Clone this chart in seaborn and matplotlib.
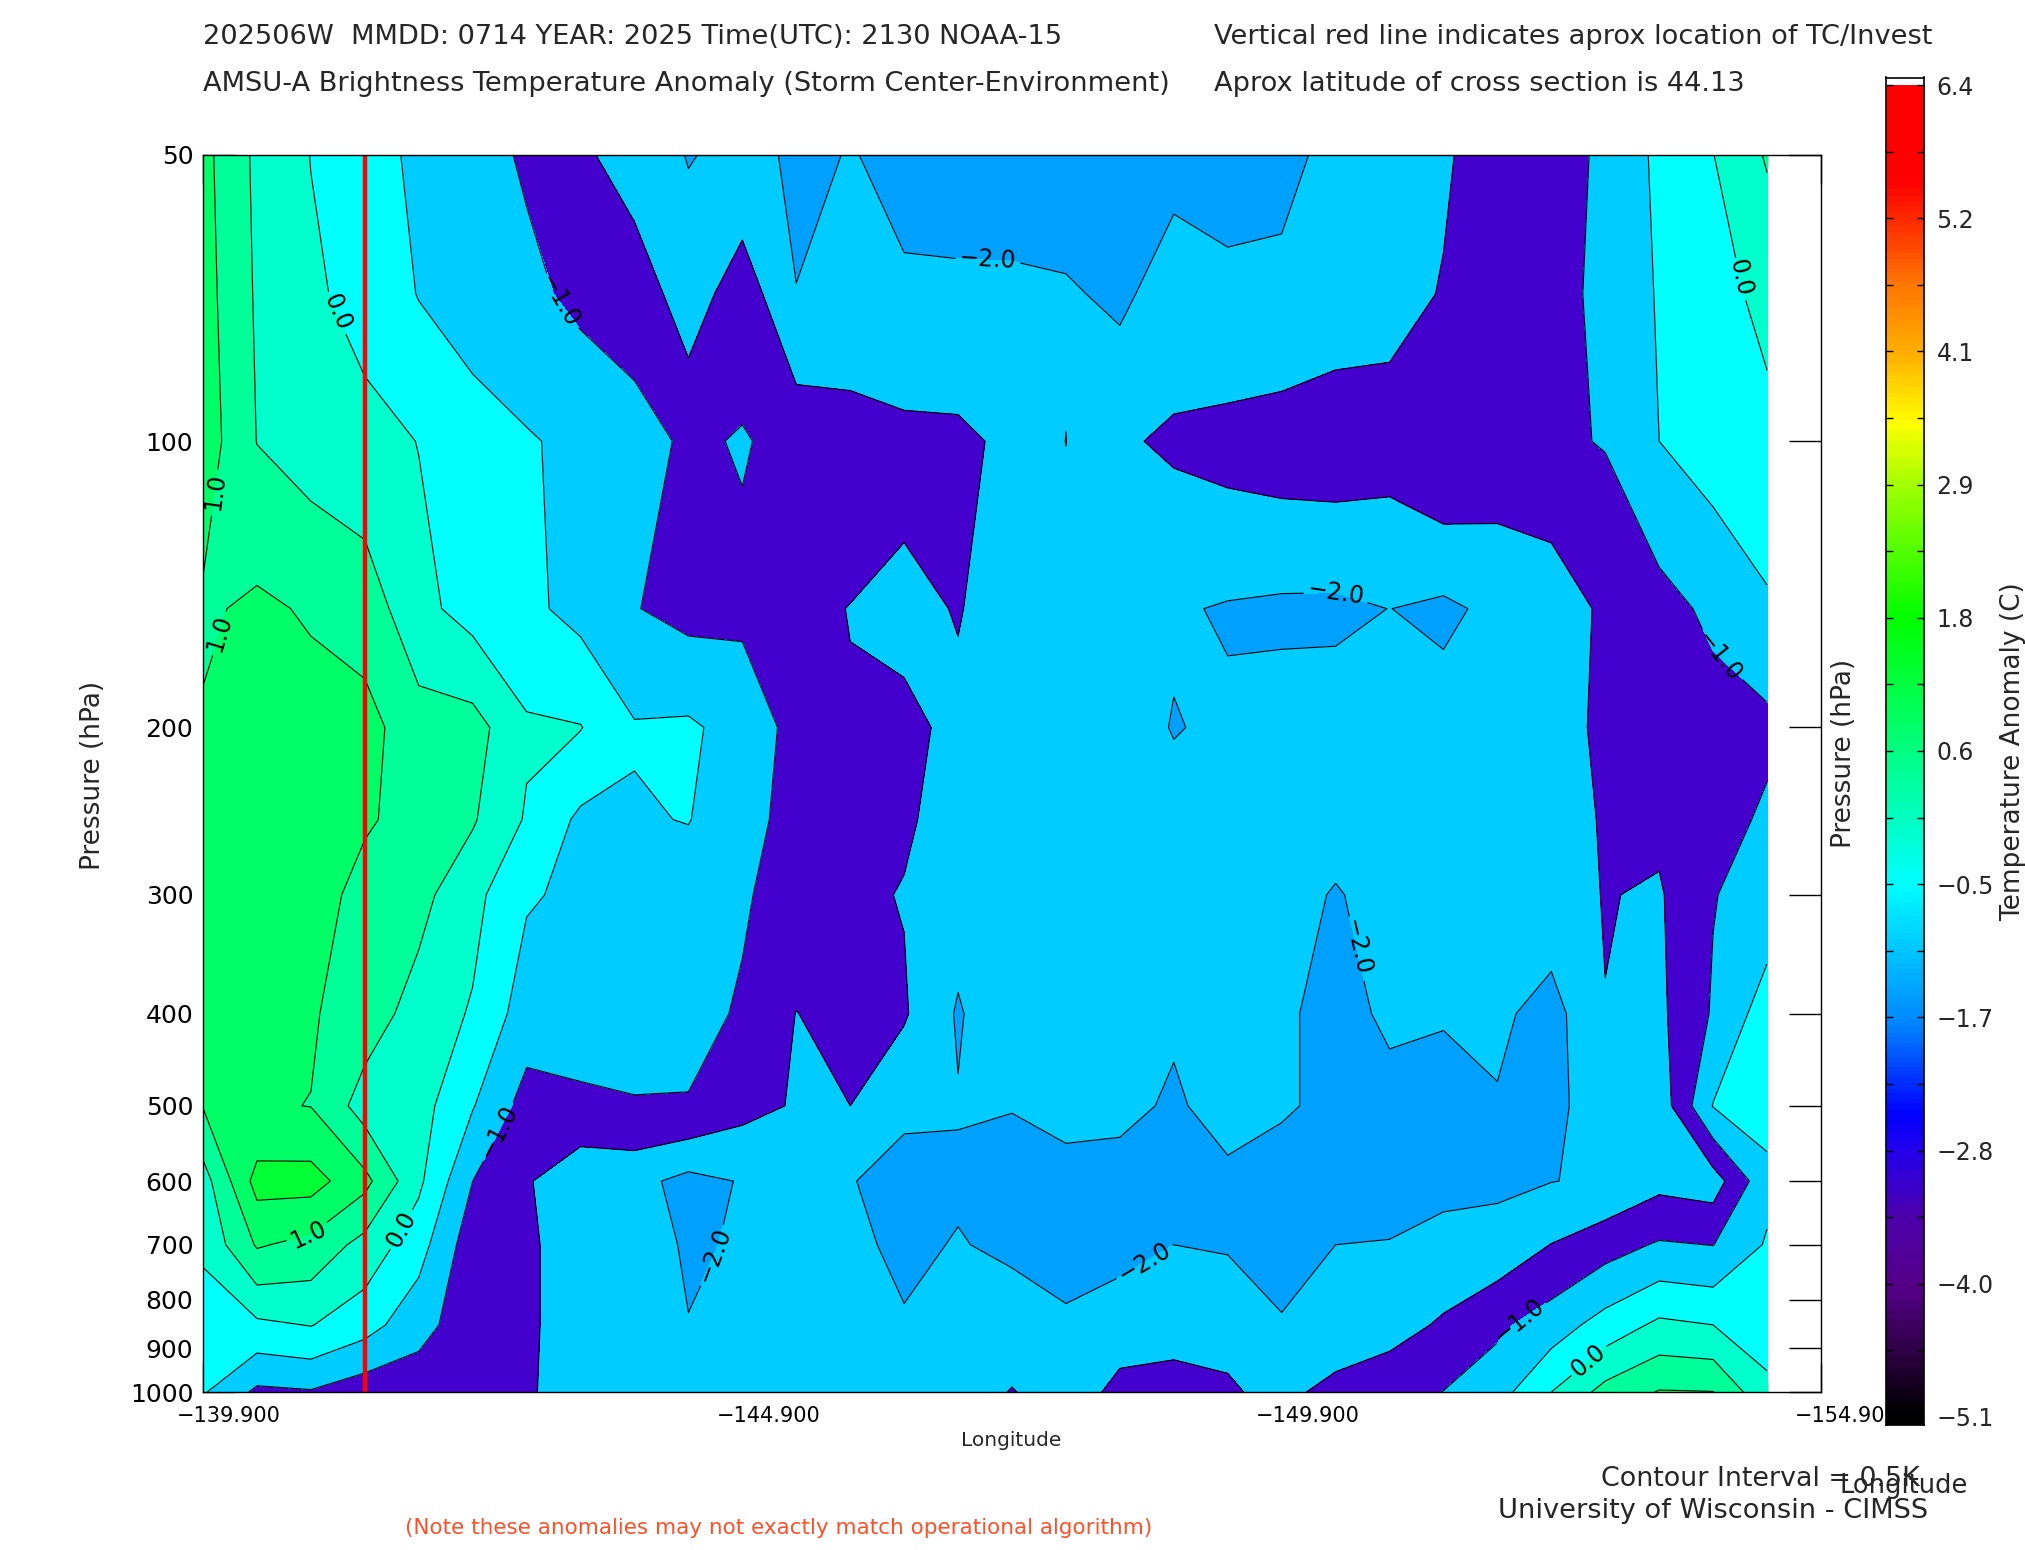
import numpy as np
import matplotlib
matplotlib.use("Agg")
import matplotlib.pyplot as plt
from matplotlib.colors import LinearSegmentedColormap
from matplotlib.ticker import NullLocator, FixedLocator
from matplotlib.transforms import ScaledTranslation
import seaborn as sns

# ---------------- data ----------------
longitudes = [-139.9, -140.4, -140.9, -141.4, -141.9, -142.4, -142.9, -143.4, -143.9, -144.4,
              -144.9, -145.4, -145.9, -146.4, -146.9, -147.4, -147.9, -148.4, -148.9, -149.4,
              -149.9, -150.4, -150.9, -151.4, -151.9, -152.4, -152.9, -153.4, -153.9, -154.4]
pressures = [50, 70, 100, 150, 200, 250, 300, 400, 500, 600, 700, 850, 1000]

anom_p50 = [1.15, 0.40, -0.01, -0.30, -0.60, -0.85, -1.05, -1.40, -1.75, -2.02, -1.90, -2.05, -1.99, -2.05, -2.30,
            -2.30, -2.30, -2.35, -2.15, -2.15, -2.10, -1.90, -1.70, -1.55, -1.30, -1.07, -0.97, -0.38, -0.01, 0.55]
anom_p70 = [1.20, 0.44, 0.08, -0.16, -0.52, -0.70, -0.90, -1.10, -1.18, -1.78, -1.20, -1.995, -1.90, -1.975, -1.88,
            -1.89, -1.94, -2.10, -1.76, -1.91, -1.91, -1.75, -1.645, -1.475, -1.25, -1.07, -0.95, -0.45, -0.12, 0.09]
anom_p100 = [1.27, 0.49, 0.30, 0.15, -0.01, -0.30, -0.45, -0.63, -0.85, -1.064, -0.97, -1.13, -1.25, -1.35, -1.40,
             -1.60, -2.005, -1.557, -1.43, -1.33, -1.25, -1.22, -1.30, -1.02, -1.20, -1.07, -0.977, -0.50, -0.30, -0.10]
anom_p150 = [0.92, 1.10, 0.94, 0.80, 0.133, -0.18, -0.40, -0.64, -0.98, -1.15, -1.10, -1.40, -1.51, -1.62, -1.474,
             -1.73, -1.80, -1.90, -1.95, -2.04, -2.09, -2.10, -1.995, -2.10, -1.88, -1.84, -1.39, -1.20, -0.88, -0.58]
anom_p200 = [1.05, 1.30, 1.23, 1.16, 0.73, 0.70, 0.07, 0.02, -0.46, -0.42, -0.70, -1.16, -1.47, -1.40, -1.60,
             -1.70, -1.80, -1.82, -2.02, -1.93, -1.80, -1.75, -1.75, -1.78, -1.75, -1.60, -1.45, -1.35, -1.25, -1.13]
anom_p250 = [1.15, 1.30, 1.25, 1.05, 0.85, 0.55, -0.05, -0.60, -0.55, -0.48, -0.85, -1.15, -1.35, -1.45, -1.65,
             -1.75, -1.80, -1.85, -1.85, -1.85, -1.85, -1.90, -1.85, -1.82, -1.80, -1.75, -1.45, -1.40, -1.25, -0.90]
anom_p300 = [1.20, 1.30, 1.20, 0.85, 0.65, 0.15, -0.45, -0.60, -0.70, -0.80, -0.95, -1.20, -1.42, -1.52, -1.80,
             -1.85, -1.80, -1.85, -1.85, -1.85, -1.90, -2.02, -1.90, -1.85, -1.80, -1.70, -1.48, -1.55, -1.02, -0.80]
anom_p400 = [1.30, 1.25, 1.05, 0.75, 0.30, -0.05, -0.75, -0.75, -0.80, -0.85, -1.05, -1.51, -1.30, -1.45, -2.05,
             -1.60, -1.85, -1.90, -1.90, -1.90, -1.95, -2.10, -1.95, -1.97, -1.90, -2.19, -1.51, -1.60, -0.95, -0.25]
anom_p500 = [1.02, 1.05, 0.99, 0.28, 0.20, -0.47, -1.20, -1.10, -1.03, -1.03, -1.35, -1.54, -1.50, -1.88, -1.97,
             -1.98, -1.90, -1.81, -2.10, -1.72, -1.95, -2.10, -2.09, -2.15, -2.04, -2.05, -1.90, -1.80, -0.48, -0.30]
anom_p600 = [0.28, 1.68, 1.70, 1.146, 0.10, -1.00, -1.45, -1.87, -1.85, -2.15, -1.97, -1.90, -1.97, -2.22, -2.07,
             -2.20, -2.11, -2.29, -2.20, -2.16, -2.19, -2.20, -2.20, -2.20, -2.10, -2.01, -1.94, -1.64, -1.74, -0.64]
anom_p700 = [0.10, 1.05, 0.85, 0.33, -0.30, -1.30, -1.45, -1.65, -1.80, -2.05, -1.96, -1.85, -1.90, -2.10, -1.97,
             -2.10, -2.10, -2.20, -2.00, -2.05, -2.10, -2.00, -1.98, -1.77, -1.80, -1.49, -1.20, -0.95, -1.01, -0.45]
anom_p850 = [-0.28, -0.10, 0.02, -0.30, -0.82, -1.30, -1.45, -1.65, -1.65, -1.99, -1.70, -1.70, -1.75, -1.96, -1.80,
             -1.73, -1.96, -1.67, -1.70, -1.62, -1.98, -1.80, -1.65, -1.45, -1.10, -0.75, -0.30, 0.10, 0.00, -0.20]
anom_p1000 = [-0.45, -1.10, -1.04, -1.30, -1.30, -1.40, -1.45, -1.70, -1.70, -1.70, -1.70, -1.70, -1.70, -1.70, -1.70,
              -1.48, -1.70, -1.40, -1.30, -1.45, -1.62, -1.36, -1.25, -0.99, -0.70, 0.00, 0.67, 1.03, 1.01, 0.10]

storm_longitude = -141.4

fill_levels = [-5.0, -2.0, -1.5, -1.0, -0.5, 0.0, 0.5, 1.0, 1.5, 2.0, 3.0]
fill_colors = ['#00A0FF', '#00CCFF', '#4400CC', '#00CCFF', '#00FFFF', '#00FFCC',
               '#00FF99', '#00FF66', '#00FF33', '#00FF00']
plain_line_levels = [-1.5, -0.5, 0.5, 1.5]
label_levels = [-2.0, -1.0, 0.0, 1.0]
label_spots_lon = [-141.19, -143.17, -147.18, -139.97, -140.03, -150.41, -154.06, -154.12,
                   -150.59, -142.61, -141.71, -140.89, -144.57, -148.56, -152.12, -152.72]
label_spots_p = [72.8, 71.7, 62.8, 112.7, 158.8, 143.9, 163.6, 67.4,
                 341, 530, 671, 692, 712, 708, 847, 919]

x_tick_values = [-139.9, -144.9, -149.9, -154.9]
x_tick_labels = ['\u2212139.900', '\u2212144.900', '\u2212149.900', '\u2212154.900']
y_tick_values = [50, 100, 200, 300, 400, 500, 600, 700, 800, 900, 1000]
y_tick_labels = ['50', '100', '200', '300', '400', '500', '600', '700', '800', '900', '1000']

cbar_min, cbar_max = -5.1, 6.4
cbar_tick_values = [-5.1, -3.95, -2.8, -1.65, -0.5, 0.65, 1.8, 2.95, 4.1, 5.25, 6.4]
cbar_tick_labels = ['\u22125.1', '\u22124.0', '\u22122.8', '\u22121.7', '\u22120.5', '0.6', '1.8', '2.9', '4.1', '5.2', '6.4']
cbar_anchor_values = [-5.1, -4.5, -4.0, -3.4, -2.8, -2.5, -1.7, -0.5, 0.6, 1.8, 2.9, 3.5, 4.1, 4.7, 5.2, 5.6, 6.4]
cbar_anchor_colors = ['#000000', '#33004D', '#550088', '#4D00AA', '#2200EE', '#0000FF', '#0088FF', '#00FFFF',
                      '#00FF88', '#00FF00', '#99FF00', '#FFFF00', '#FFB000', '#FF7700', '#FF3300', '#FF0000', '#FF0000']

# ---------------- figure ----------------
sns.set_theme(style="white")
plt.rcParams['font.family'] = ['DejaVu Sans']
plt.rcParams['axes.edgecolor'] = 'black'
plt.rcParams['axes.linewidth'] = 1.0
plt.rcParams['contour.negative_linestyle'] = 'solid'

W, H = 2025, 1550
fig = plt.figure(figsize=(W / 100, H / 100), dpi=100)
fig.patch.set_facecolor('white')

ax = fig.add_axes([203 / W, 1 - 1392 / H, 1618 / W, (1392 - 155) / H])
ax.set_facecolor('white')
ax.set_yscale('log')

Z = np.array([anom_p50, anom_p70, anom_p100, anom_p150, anom_p200, anom_p250, anom_p300,
              anom_p400, anom_p500, anom_p600, anom_p700, anom_p850, anom_p1000])

ax.contourf(longitudes, pressures, Z, levels=fill_levels, colors=fill_colors, antialiased=False)
ax.contour(longitudes, pressures, Z, levels=plain_line_levels, colors='black', linewidths=0.8,
           linestyles='solid')
cs_lab = ax.contour(longitudes, pressures, Z, levels=label_levels, colors='black', linewidths=0.8,
                    linestyles='solid')
ax.set_xlim(-139.9, -154.9)
ax.set_ylim(1000, 50)


def fmt_label(v):
    s = f'{v:.1f}'
    if s == '-0.0':
        s = '0.0'
    return s.replace('-', '\u2212')


ax.clabel(cs_lab, fmt=fmt_label, fontsize=17, inline=True, inline_spacing=4,
          manual=list(zip(label_spots_lon, label_spots_p)))

sns.lineplot(x=[storm_longitude, storm_longitude], y=[50, 1000], estimator=None, sort=False,
             color='red', linewidth=3.2, ax=ax, legend=False)

ax.set_xlim(-139.9, -154.9)
ax.set_ylim(1000, 50)
ax.set_xlabel('')
ax.set_ylabel('')

ax.yaxis.set_major_locator(FixedLocator(y_tick_values))
ax.set_yticklabels(y_tick_labels)
ax.yaxis.set_minor_locator(NullLocator())
ax.tick_params(axis='y', which='major', direction='in', length=23, width=1.0, color='black',
               left=True, right=True, labelsize=18, pad=7, labelcolor='black')

ax.xaxis.set_major_locator(FixedLocator(x_tick_values))
ax.set_xticklabels(x_tick_labels)
ax.xaxis.set_minor_locator(FixedLocator(longitudes))
ax.tick_params(axis='x', which='major', direction='in', length=21, width=1.0, color='black',
               top=True, bottom=True, labelsize=15, pad=10, labelcolor='black')
ax.tick_params(axis='x', which='minor', direction='in', length=8, width=1.0, color='black',
               top=True, bottom=True)
for lab in ax.get_xticklabels():
    lab.set_transform(lab.get_transform() + ScaledTranslation(0.26, 0, fig.dpi_scale_trans))
for sp in ax.spines.values():
    sp.set_visible(True)
    sp.set_color('black')
    sp.set_linewidth(1.0)

# ---------------- color bar ----------------
cax = fig.add_axes([1886 / W, 1 - 1424.6 / H, 38 / W, (1424.6 - 77.5) / H])
positions = [(v - cbar_min) / (cbar_max - cbar_min) for v in cbar_anchor_values]
cmap = LinearSegmentedColormap.from_list('amsu', list(zip(positions, cbar_anchor_colors)), N=256)
grad = np.linspace(-5.167, cbar_max, 400).reshape(-1, 1)
cax.imshow(grad, extent=[0, 1, -5.167, cbar_max], origin='lower', aspect='auto', cmap=cmap,
           vmin=cbar_min, vmax=cbar_max, interpolation='nearest')
cax.set_xlim(0, 1)
cax.set_ylim(-5.167, 6.466)
cax.set_facecolor('white')
cax.set_xticks([])
cax.yaxis.set_major_locator(FixedLocator(cbar_tick_values))
cax.set_yticklabels(cbar_tick_labels)
cax.yaxis.set_minor_locator(FixedLocator([v + 0.575 for v in cbar_tick_values[:-1]]))
cax.yaxis.tick_right()
cax.tick_params(axis='y', which='both', direction='in', length=5, width=1.0, color='black',
                left=True, right=True, labelleft=False, labelright=True, labelsize=17, pad=9)
for sp in cax.spines.values():
    sp.set_visible(True)
    sp.set_color('black')
    sp.set_linewidth(1.2)

# ---------------- texts ----------------
fs_head = 19.6
fig.text(203 / W, 1 - 37 / H, '202506W  MMDD: 0714 YEAR: 2025 Time(UTC): 2130 NOAA-15',
         ha='left', va='center', fontsize=fs_head)
fig.text(1214 / W, 1 - 37 / H, 'Vertical red line indicates aprox location of TC/Invest',
         ha='left', va='center', fontsize=fs_head)
fig.text(203 / W, 1 - 84 / H, 'AMSU-A Brightness Temperature Anomaly (Storm Center-Environment)',
         ha='left', va='center', fontsize=fs_head)
fig.text(1214 / W, 1 - 84 / H, 'Aprox latitude of cross section is 44.13',
         ha='left', va='center', fontsize=fs_head)

fig.text(1011 / W, 1 - 1441 / H, 'Longitude', ha='center', va='center', fontsize=14.5)
fig.text(93 / W, 1 - 775 / H, 'Pressure (hPa)', ha='center', va='center', rotation=90, fontsize=19)
fig.text(1844 / W, 1 - 753 / H, 'Pressure (hPa)', ha='center', va='center', rotation=90, fontsize=19)
fig.text(2013 / W, 1 - 752 / H, 'Temperature Anomaly (C)', ha='center', va='center', rotation=90, fontsize=19)

fig.text(1920 / W, 1 - 1479 / H, 'Contour Interval = 0.5K', ha='right', va='center', fontsize=19.4)
fig.text(1904 / W, 1 - 1486 / H, 'Longitude', ha='center', va='center', fontsize=18.5)
fig.text(1928 / W, 1 - 1511 / H, 'University of Wisconsin - CIMSS', ha='right', va='center', fontsize=19.6)
fig.text(779 / W, 1 - 1528 / H, '(Note these anomalies may not exactly match operational algorithm)',
         ha='center', va='center', fontsize=15.5, color='#FF5028')

fig.savefig('out.png', dpi=100, facecolor='white')
